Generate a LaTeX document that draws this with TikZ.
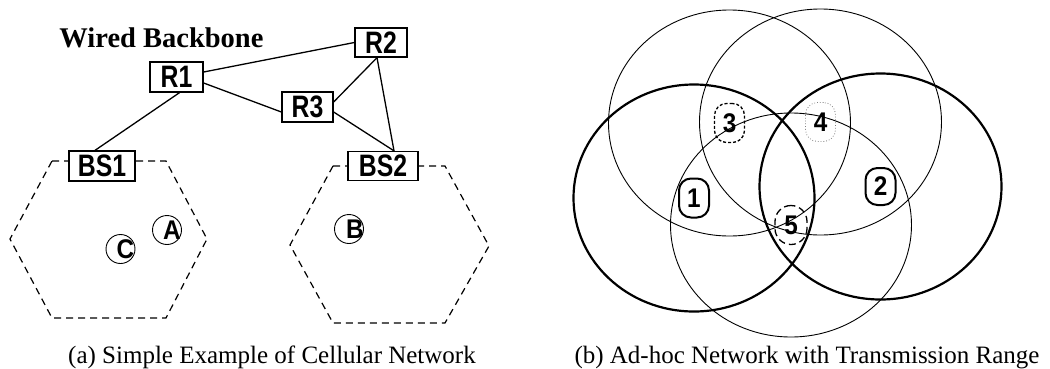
\documentclass[tikz,border=0pt]{standalone}
\usepackage{fontspec}
\setmainfont{Liberation Serif}
\newfontfamily\arialfont{Liberation Sans}
\usepackage{graphicx}
\usetikzlibrary{shapes, arrows}

\newcommand{\boxlab}[1]{\scalebox{0.8}[1]{\arialfont\bfseries\fontsize{31}{31}\selectfont #1}}
\newcommand{\hostlab}[1]{\scalebox{0.9}[1]{\arialfont\bfseries\fontsize{27}{27}\selectfont #1}}

\tikzset{
	router/.style={rectangle, draw, fill=white, line width=1.3pt, inner sep=0pt, minimum height=30pt},
	link/.style={line width=1.3pt},
	cell/.style={line width=1.2pt, dash pattern=on 7pt off 5pt},
	mobile/.style={circle, draw, line width=0.9pt, inner sep=0pt, minimum size=29pt},
	txrange/.style={line width=0.9pt},
	strongtx/.style={line width=2.2pt},
	host/.style={rectangle, rounded corners=12pt, inner sep=0pt, minimum width=30pt, minimum height=39pt}
}

\begin{document}
\begin{tikzpicture}[x=1pt, y=-1pt]
	\useasboundingbox (0,0) rectangle (1050,368);
	\draw[cell] (52,161) -- (166,161) -- (207,239) -- (166,318) -- (52,318) -- (10,239) -- cycle;
	\draw[cell] (333,166) -- (445,166) -- (489,246) -- (445,323) -- (333,323) -- (290,245) -- cycle;
	\node at (161.5,47) [anchor=base] (title) {\fontsize{28.5}{30}\selectfont\bfseries Wired Backbone};
	\node at (176.5,77) [router, minimum width=53pt] (R1) {\boxlab{R1}};
	\node at (381,42.5) [router, minimum width=52pt, minimum height=29pt] (R2) {\boxlab{R2}};
	\node at (307.5,107) [router, minimum width=51pt] (R3) {\boxlab{R3}};
	\node at (102,166) [router, minimum width=66pt] (BS1) {\boxlab{BS1}};
	\node at (383,166) [router, minimum width=70pt, minimum height=29pt] (BS2) {\boxlab{BS2}};
	\draw[link] ([yshift=5pt]R1.east) -- ([yshift=0pt]R2.west);
	\draw[link] ([yshift=-6pt]R1.east) -- ([yshift=-5pt]R3.west);
	\draw[link] ([xshift=3pt]R1.south) -- ([xshift=-7pt]BS1.north);
	\draw[link] ([yshift=5pt]R3.east) -- ([xshift=-4pt]R2.south);
	\draw[link] ([yshift=-5pt]R3.east) -- ([xshift=11pt]BS2.north);
	\draw[link] ([xshift=-4pt]R2.south) -- ([xshift=11pt]BS2.north);
	\node at (167,230) [mobile] (A) {};
	\node at ([xshift=5pt]A.center) (Alab) {\hostlab{A}};
	\node at (120.5,249) [mobile] (C) {};
	\node at ([xshift=5pt]C.center) (Clab) {\hostlab{C}};
	\node at (349,229) [mobile] (B) {};
	\node at ([xshift=6pt]B.center) (Blab) {\hostlab{B}};
	\node at (272,363) [anchor=base] (capa) {\fontsize{25}{30}\selectfont (a) Simple Example of Cellular Network};

	\node at (694,198) [host, draw, line width=2pt] (n1) {\hostlab{1}};
	\node at (880.5,186.5) [host, draw, line width=2pt, minimum height=37pt] (n2) {\hostlab{2}};
	\node at (729.5,123) [host, draw, line width=1.3pt, dash pattern=on 3pt off 2pt] (n3) {\hostlab{3}};
	\node at (820.5,122) [host, draw=gray, line width=0.8pt, dotted] (n4) {\hostlab{4}};
	\node at (791,225) [host, draw, rounded corners=16pt, minimum width=32pt, line width=1.3pt, dash pattern=on 7pt off 4pt] (n5) {\hostlab{5}};
	\draw[strongtx] (n1.center) ellipse (120.5 and 113.5);
	\draw[strongtx] (n2.center) ellipse (121 and 113);
	\draw[txrange] (n3.center) ellipse (121 and 113);
	\draw[txrange] (n4.center) ellipse (121 and 113);
	\draw[txrange] (n5.center) ellipse (120.5 and 112);
	\node at (807,363) [anchor=base] (capb) {\fontsize{25}{30}\selectfont (b) Ad-hoc Network with Transmission Range};
\end{tikzpicture}
\end{document}
